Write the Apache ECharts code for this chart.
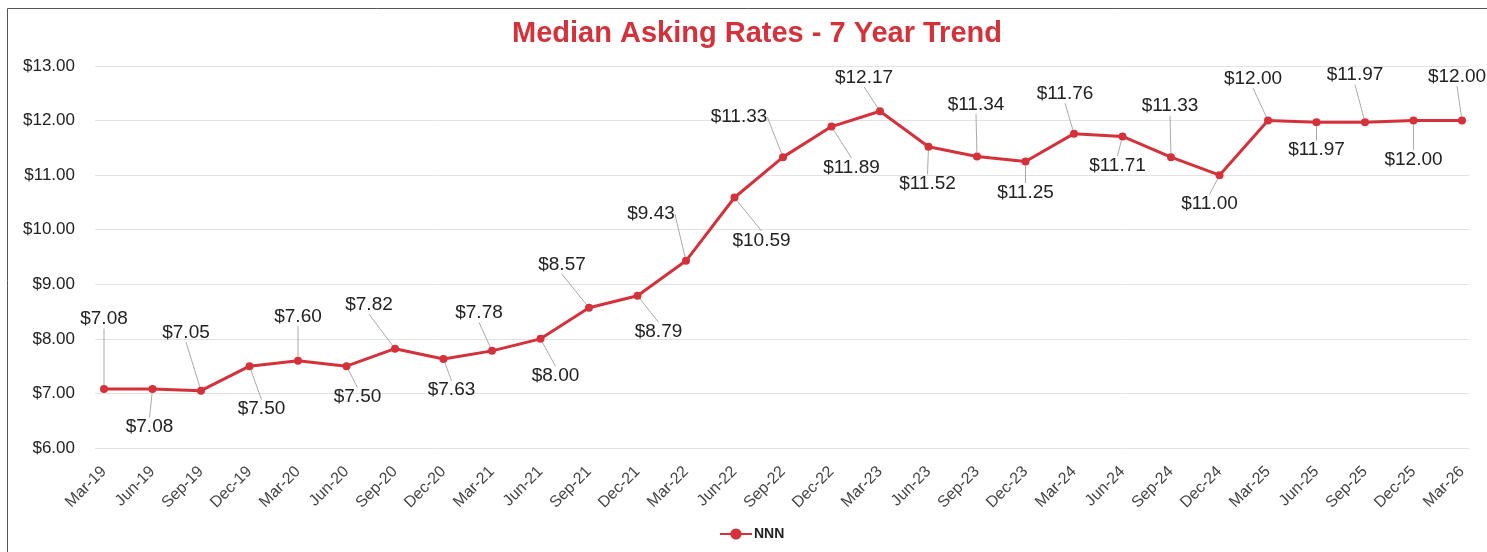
<!DOCTYPE html>
<html>
<head>
<meta charset="utf-8">
<script src="https://cdn.jsdelivr.net/npm/echarts@6/dist/echarts.min.js"></script>
<style>
  html, body { margin: 0; padding: 0; background: #fff; }
  #chart { width: 1487px; height: 552px; }
</style>
</head>
<body>
<div id="chart"></div>
<script>
// quarters
const categories = [
  "Mar-19", "Jun-19", "Sep-19", "Dec-19", "Mar-20", "Jun-20", "Sep-20", "Dec-20",
  "Mar-21", "Jun-21", "Sep-21", "Dec-21", "Mar-22", "Jun-22", "Sep-22", "Dec-22",
  "Mar-23", "Jun-23", "Sep-23", "Dec-23", "Mar-24", "Jun-24", "Sep-24", "Dec-24",
  "Mar-25", "Jun-25", "Sep-25", "Dec-25", "Mar-26"
];
// NNN median asking rate
const nnn = [
  7.08, 7.08, 7.05, 7.50, 7.60, 7.50, 7.82, 7.63,
  7.78, 8.00, 8.57, 8.79, 9.43, 10.59, 11.33, 11.89,
  12.17, 11.52, 11.34, 11.25, 11.76, 11.71, 11.33, 11.00,
  12.00, 11.97, 11.97, 12.00, 12.00
];
const yTicks = { min: 6, max: 13, step: 1 };

// where each data label sits relative to its point (dx, dy)
const labelShift = [
  [0, -70], [-3, 38], [-15, -58], [12, 43], [0, -44], [11, 31], [-26, -44], [8, 31],
  [-13, -38], [15, 37], [-27, -43], [21, 36], [-35, -47], [27, 43], [-44, -40], [20, 41],
  [-16, -34], [-1, 37], [-1, -52], [0, 31], [-9, -40], [-5, 29], [-1, -51], [-10, 29],
  [-15, -42], [0, 28], [-10, -47], [0, 39], [-5, -44]
];

const FONT = "'Liberation Sans', Arial, Helvetica, sans-serif";
const RED = "#d5313b";
const money = (v) => "$" + v.toFixed(2);

const chart = echarts.init(document.getElementById("chart"));
chart.setOption({
  animation: false,
  textStyle: { fontFamily: FONT },
  title: {
    text: "Median Asking Rates - 7 Year Trend",
    left: 507,
    top: 14,
    textStyle: { color: RED, fontSize: 29, fontWeight: "bold", fontFamily: FONT }
  },
  graphic: [{
    type: "rect",
    shape: { x: 7.5, y: 8.5, width: 1520, height: 600 },
    style: { fill: "none", stroke: "#555", lineWidth: 1 },
    silent: true
  }],
  legend: {
    left: 719,
    top: 527,
    padding: 0,
    itemWidth: 32,
    itemHeight: 14,
    textStyle: { fontSize: 14, fontWeight: "bold", color: "#222", fontFamily: FONT, padding: [0, 0, 0, -3] },
    data: ["NNN"]
  },
  // grid 0 carries the gridlines and y labels, grid 1 the series
  grid: [
    { left: 95, right: 18, top: 66, bottom: 104 },
    { left: 104, right: 25, top: 66, bottom: 104 }
  ],
  xAxis: [
    { gridIndex: 0, type: "category", data: categories, show: false },
    {
      gridIndex: 1,
      type: "category",
      data: categories,
      boundaryGap: false,
      axisLine: { show: false },
      axisTick: { show: false },
      axisLabel: {
        rotate: 45,
        interval: 0,
        margin: 21,
        fontSize: 16,
        color: "#444",
        fontFamily: FONT
      }
    }
  ],
  yAxis: [
    {
      gridIndex: 0,
      type: "value",
      min: yTicks.min,
      max: yTicks.max,
      interval: yTicks.step,
      axisLine: { show: false },
      axisTick: { show: false },
      axisLabel: { formatter: money, margin: 20, fontSize: 17, color: "#222", fontFamily: FONT },
      splitLine: { lineStyle: { color: "#e2e2e2", width: 1 } }
    },
    {
      gridIndex: 1,
      type: "value",
      min: yTicks.min,
      max: yTicks.max,
      interval: yTicks.step,
      show: false,
      splitLine: { show: false }
    }
  ],
  series: [{
    name: "NNN",
    type: "line",
    xAxisIndex: 1,
    yAxisIndex: 1,
    data: nnn,
    symbol: "circle",
    symbolSize: 8,
    itemStyle: { color: RED },
    lineStyle: { color: RED, width: 3 },
    label: {
      show: true,
      position: "inside",
      formatter: (p) => money(p.value),
      fontSize: 19,
      color: "#222",
      fontFamily: FONT
    },
    labelLine: { show: true, lineStyle: { color: "#aaa", width: 1 } },
    labelLayout: (p) => ({ dx: labelShift[p.dataIndex][0], dy: labelShift[p.dataIndex][1] })
  }]
});
</script>
</body>
</html>
